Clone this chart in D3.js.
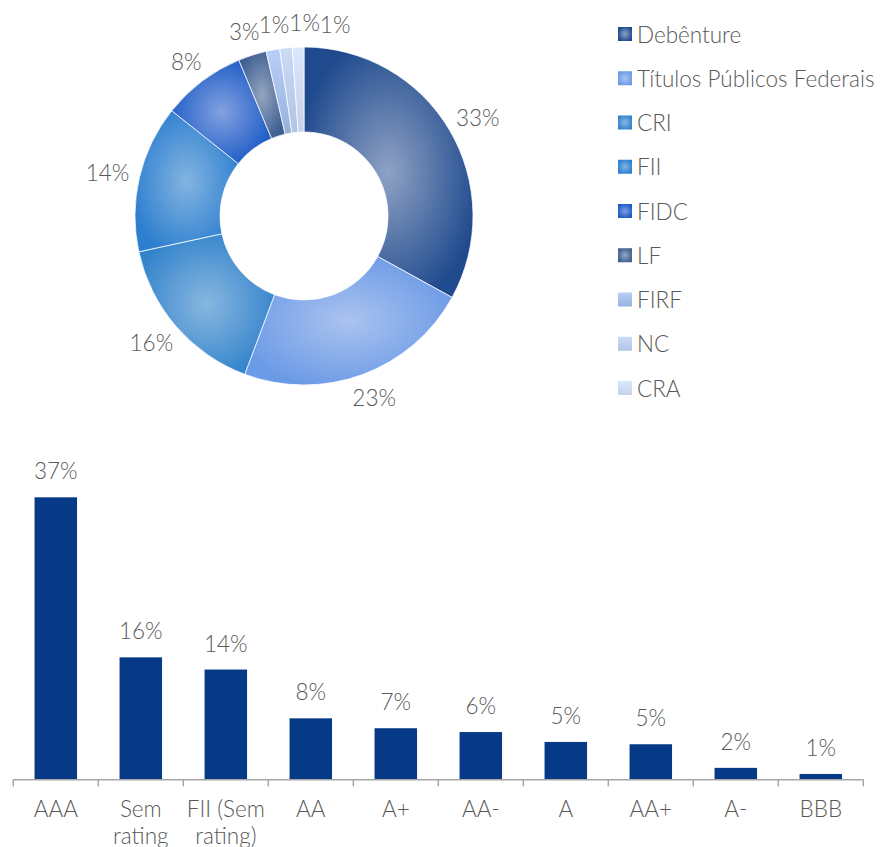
<!DOCTYPE html>
<html>
<head>
<meta charset="utf-8">
<script src="https://cdnjs.cloudflare.com/ajax/libs/d3/7.8.5/d3.min.js"></script>
<style>
    body { margin: 0; background: #fff; }
    text { font-family: Lato, 'Open Sans', sans-serif; font-weight: 300; fill: #595959; }
</style>
</head>
<body>
<svg id="canvas" width="886" height="847"></svg>
<script>
// composicao por tipo de ativo (%)
let tipos = ['Debênture', 'Títulos Públicos Federais', 'CRI', 'FII', 'FIDC', 'LF', 'FIRF', 'NC', 'CRA']
let tipoValores = [33.0, 22.7, 15.9, 14.1, 8.0, 2.7, 1.3, 1.2, 1.1]

// composicao por rating (%)
let ratings = ['AAA', 'Sem rating', 'FII (Sem rating)', 'AA', 'A+', 'AA-', 'A', 'AA+', 'A-', 'BBB']
let ratingValores = [37.0, 16.0, 14.4, 8.0, 6.7, 6.2, 4.9, 4.6, 1.5, 0.7]

// cores das fatias: [centro, borda]
let coresTipos = [
    ['#8fa2c4', '#1f4a8e'],
    ['#abc3ef', '#6b9ae6'],
    ['#88b7e0', '#3383cc'],
    ['#82b4e1', '#2e7fcf'],
    ['#82a1e0', '#1d5bc6'],
    ['#95a6c0', '#3e5f92'],
    ['#b8d0f8', '#98b1dc'],
    ['#cbdbf6', '#b1c4e5'],
    ['#dbe7fc', '#c5d1e9']
]

let fontSize = '22.5px'

let canvas = d3.select('#canvas')
let defs = canvas.append('defs')

let fmt = (v) => Math.round(v) + '%'

// gradientes (radiais para as maiores, lineares para as claras)
coresTipos.forEach((c, i) => {
    let g
    if (i < 6) {
        g = defs.append('radialGradient').attr('id', 'grad' + i)
            .attr('cx', '50%').attr('cy', '50%').attr('r', '55%')
    } else {
        g = defs.append('linearGradient').attr('id', 'grad' + i)
            .attr('x1', 0).attr('y1', 0).attr('x2', 0).attr('y2', 1)
    }
    g.append('stop').attr('offset', '0%').attr('stop-color', c[0])
    g.append('stop').attr('offset', '100%').attr('stop-color', c[1])
})

// ---------- rosca ----------
let cx = 304, cy = 216
let rOut = 169, rIn = 84

let pie = d3.pie().sort(null).value((d) => d)
let arcs = pie(tipoValores)
let arc = d3.arc().innerRadius(rIn).outerRadius(rOut)

let donut = canvas.append('g').attr('transform', 'translate(' + cx + ',' + cy + ')')

donut.selectAll('path')
    .data(arcs)
    .enter()
    .append('path')
    .attr('d', arc)
    .attr('fill', (d, i) => 'url(#grad' + i + ')')
    .attr('stroke', '#fff')
    .attr('stroke-width', 0.75)

// rotulos: espalha os das fatias pequenas para nao sobrepor
let minGap = 9 * Math.PI / 180
let rLabel = 180
let prev = -Infinity
let labelAngles = arcs.map((d) => {
    let a = (d.startAngle + d.endAngle) / 2
    if (d.endAngle - d.startAngle < 0.25) a = Math.max(a, prev + minGap)
    prev = a
    return a
})

// a borda do rotulo encosta no raio (como no Excel)
donut.selectAll('text.pct')
    .data(arcs)
    .enter()
    .append('text')
    .attr('class', 'pct')
    .attr('text-anchor', 'middle')
    .attr('dominant-baseline', 'central')
    .style('font-size', fontSize)
    .text((d) => fmt(d.data))
    .each(function (d, i) {
        let a = labelAngles[i]
        let box = this.getBBox()
        let sx = Math.sin(a), sy = -Math.cos(a)
        d3.select(this)
            .attr('x', rLabel * sx + sx * box.width / 2)
            .attr('y', rLabel * sy + sy * box.height / 2)
    })

// legenda
let legend = canvas.append('g').attr('transform', 'translate(618, 34)')
let item = legend.selectAll('g')
    .data(tipos)
    .enter()
    .append('g')
    .attr('transform', (d, i) => 'translate(0,' + (i * 44.25) + ')')

item.append('rect')
    .attr('x', 0).attr('y', -7)
    .attr('width', 14).attr('height', 14)
    .attr('fill', (d, i) => 'url(#grad' + i + ')')

item.append('text')
    .attr('x', 19)
    .attr('y', 0)
    .attr('dominant-baseline', 'central')
    .style('font-size', fontSize)
    .text((d) => d)

// ---------- barras ----------
let plotLeft = 13.3, plotRight = 863.3
let plotTop = 497.3, plotBase = 779.3

let x = d3.scaleBand()
    .domain(ratings)
    .range([plotLeft, plotRight])
    .paddingInner(0.5)
    .paddingOuter(0.25)

let xOuter = d3.scaleBand().domain(ratings).range([plotLeft, plotRight])

let y = d3.scaleLinear()
    .domain([0, d3.max(ratingValores)])
    .range([plotBase, plotTop])

let bars = canvas.append('g')

bars.selectAll('rect')
    .data(ratingValores)
    .enter()
    .append('rect')
    .attr('x', (d, i) => x(ratings[i]))
    .attr('y', (d) => y(d))
    .attr('width', x.bandwidth())
    .attr('height', (d) => plotBase - y(d))
    .attr('fill', '#063a87')

bars.selectAll('text.val')
    .data(ratingValores)
    .enter()
    .append('text')
    .attr('class', 'val')
    .attr('x', (d, i) => x(ratings[i]) + x.bandwidth() / 2)
    .attr('y', (d) => y(d) - 18)
    .attr('text-anchor', 'middle')
    .style('font-size', fontSize)
    .text((d) => fmt(d))

// eixo x
let axis = canvas.append('g')
axis.append('line')
    .attr('x1', plotLeft).attr('x2', plotRight)
    .attr('y1', plotBase + 0.5).attr('y2', plotBase + 0.5)
    .attr('stroke', '#a6a6a6').attr('stroke-width', 1.5)

let bounds = ratings.map((r) => xOuter(r)).concat([plotRight])
axis.selectAll('line.tick')
    .data(bounds)
    .enter()
    .append('line')
    .attr('class', 'tick')
    .attr('x1', (d) => d).attr('x2', (d) => d)
    .attr('y1', plotBase).attr('y2', plotBase + 7)
    .attr('stroke', '#a6a6a6').attr('stroke-width', 1.5)

let xAxis = canvas.append('g')
    .attr('transform', 'translate(0,' + plotBase + ')')
    .call(d3.axisBottom(xOuter).tickSize(0).tickPadding(0))

xAxis.select('.domain').remove()
xAxis.selectAll('text')
    .attr('y', 38)
    .attr('dy', 0)
    .style('font-size', fontSize)
    .style('font-family', 'Lato, sans-serif')
    .attr('fill', '#595959')
    .each(function (d) {
        // quebra de linha como no original
        let t = d3.select(this)
        let words = d.split(' ')
        let lines = [], line = []
        t.text(null)
        let probe = t.append('tspan')
        words.forEach((w) => {
            line.push(w)
            probe.text(line.join(' '))
            if (probe.node().getComputedTextLength() > xOuter.bandwidth() + 4 && line.length > 1) {
                line.pop()
                lines.push(line.join(' '))
                line = [w]
            }
        })
        lines.push(line.join(' '))
        probe.remove()
        lines.forEach((l, k) => {
            t.append('tspan')
                .attr('x', 0)
                .attr('dy', k === 0 ? 0 : 27)
                .text(l)
        })
    })
</script>
</body>
</html>
